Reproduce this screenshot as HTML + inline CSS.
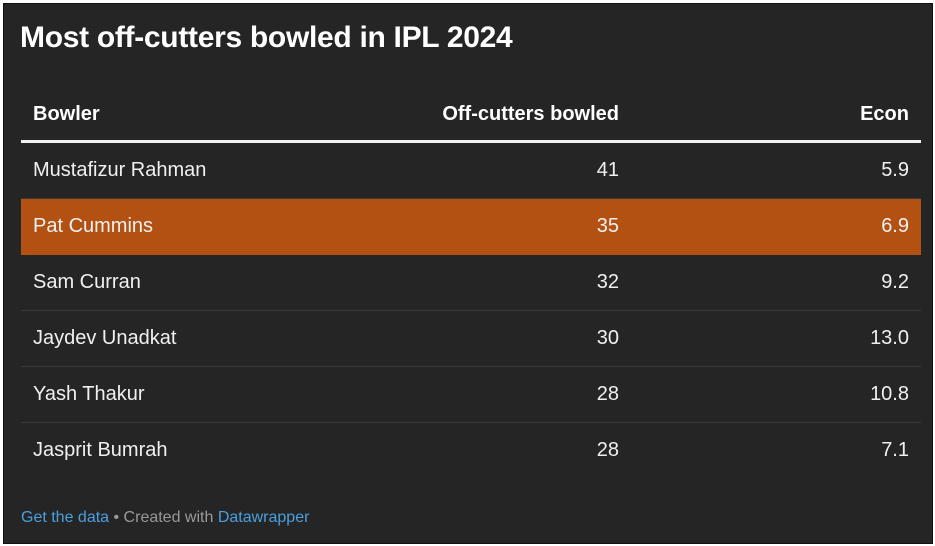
<!DOCTYPE html>
<html><head><style>
body{margin:0;background:#fff;width:935px;height:546px;overflow:hidden;font-family:"Liberation Sans",Arial,sans-serif}
.box{position:absolute;left:3px;top:3px;width:928px;height:539px;background:#252525;border:1px solid #111}
.t{position:absolute;left:16px;top:17px;color:#fff;font-size:30px;font-weight:bold;letter-spacing:-0.3px}
.h{position:absolute;top:99px;color:#fff;font-size:20px;font-weight:bold}
.hl{position:absolute;left:17px;top:136px;width:900px;height:3px;background:#f2f2f2}
.r{position:absolute;left:17px;width:900px;height:55px;border-bottom:1px solid #3a3a3a;color:#f0f0f0;font-size:20px}
.r span{position:absolute;top:16px}
.a{left:12px}.b{right:302px}.c{right:12px}
.f{position:absolute;left:17px;top:505px;font-size:16px;color:#999}
.f b{font-weight:normal;color:#4a9fe0}
</style></head><body><div class="box">
<div class="t">Most off-cutters bowled in IPL 2024</div>
<div class="h" style="left:29px">Bowler</div>
<div class="h" style="right:313px">Off-cutters bowled</div>
<div class="h" style="right:23px">Econ</div>
<div class="hl"></div>
<div class="r" style="top:139px"><span class="a">Mustafizur Rahman</span><span class="b">41</span><span class="c">5.9</span></div>
<div class="r" style="top:195px;background:#b35113;border-bottom-color:#b35113"><span class="a">Pat Cummins</span><span class="b">35</span><span class="c">6.9</span></div>
<div class="r" style="top:251px"><span class="a">Sam Curran</span><span class="b">32</span><span class="c">9.2</span></div>
<div class="r" style="top:307px"><span class="a">Jaydev Unadkat</span><span class="b">30</span><span class="c">13.0</span></div>
<div class="r" style="top:363px"><span class="a">Yash Thakur</span><span class="b">28</span><span class="c">10.8</span></div>
<div class="r" style="top:419px;border-bottom:none"><span class="a">Jasprit Bumrah</span><span class="b">28</span><span class="c">7.1</span></div>
<div class="f"><b>Get the data</b> • Created with <b>Datawrapper</b></div>
</div></body></html>
